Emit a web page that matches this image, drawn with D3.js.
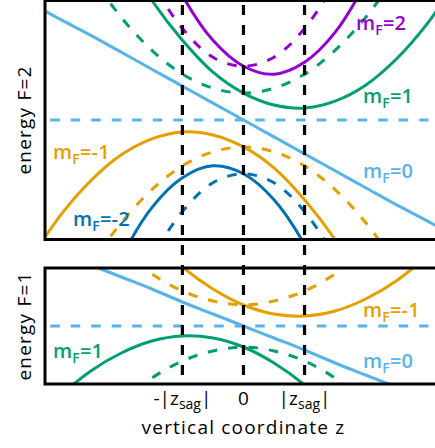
<!DOCTYPE html>
<html>
<head>
<meta charset="utf-8">
<script src="https://cdn.jsdelivr.net/npm/d3@7"></script>
<style>
  html, body { margin: 0; padding: 0; background: #fff; }
  svg { display: block; font-family: "Open Sans", "Lato", sans-serif; }
</style>
</head>
<body>
<svg id="chart" width="435" height="448"></svg>
<script>
// Sample positions along the vertical coordinate z (units of |z_sag|)
const zGrid = [-3.5, -3, -2.5, -2, -1.5, -1, -0.5, 0, 0.5, 1, 1.5, 2, 2.5, 3, 3.5];

// F=2 manifold: solid = with gravity, dashed = without gravity
const f2m2    = [63.7, 49.7, 37.6, 27.3, 19.0, 12.5, 8.0, 5.4, 4.6, 5.8, 8.8, 13.8, 20.7, 29.4, 40.1];
const f2m1    = [37.8, 29.9, 23.0, 17.0, 12.0, 8.0, 4.8, 2.7, 1.5, 1.2, 1.9, 3.5, 6.1, 9.6, 14.1];
const f2m0    = [11.8, 10.1, 8.5, 6.8, 5.1, 3.4, 1.7, 0, -1.7, -3.4, -5.1, -6.8, -8.5, -10.1, -11.8];
const f2mm1   = [-14.1, -9.6, -6.1, -3.5, -1.9, -1.2, -1.5, -2.7, -4.8, -8.0, -12.0, -17.0, -23.0, -29.9, -37.8];
const f2mm2   = [-40.1, -29.4, -20.7, -13.8, -8.8, -5.8, -4.6, -5.4, -8.0, -12.5, -19.0, -27.3, -37.6, -49.7, -63.7];
const f2m2ng  = [51.9, 39.6, 29.1, 20.6, 13.9, 9.2, 6.3, 5.4, 6.3, 9.2, 13.9, 20.6, 29.1, 39.6, 51.9];
const f2m1ng  = [26.0, 19.8, 14.6, 10.3, 7.0, 4.6, 3.2, 2.7, 3.2, 4.6, 7.0, 10.3, 14.6, 19.8, 26.0];
const f2m0ng  = [0, 0, 0, 0, 0, 0, 0, 0, 0, 0, 0, 0, 0, 0, 0];
const f2mm1ng = [-26.0, -19.8, -14.6, -10.3, -7.0, -4.6, -3.2, -2.7, -3.2, -4.6, -7.0, -10.3, -14.6, -19.8, -26.0];
const f2mm2ng = [-51.9, -39.6, -29.1, -20.6, -13.9, -9.2, -6.3, -5.4, -6.3, -9.2, -13.9, -20.6, -29.1, -39.6, -51.9];

// F=1 manifold
const f1mm1   = [27.3, 21.7, 16.7, 12.4, 8.8, 5.9, 3.7, 2.1, 1.2, 1.0, 1.5, 2.7, 4.5, 7.0, 10.2];
const f1m0    = [8.5, 7.3, 6.1, 4.9, 3.7, 2.4, 1.2, 0, -1.2, -2.4, -3.7, -4.9, -6.1, -7.3, -8.5];
const f1m1    = [-10.2, -7.0, -4.5, -2.7, -1.5, -1.0, -1.2, -2.1, -3.7, -5.9, -8.8, -12.4, -16.7, -21.7, -27.3];
const f1mm1ng = [18.8, 14.4, 10.6, 7.6, 5.2, 3.5, 2.5, 2.1, 2.5, 3.5, 5.2, 7.6, 10.6, 14.4, 18.8];
const f1m0ng  = [0, 0, 0, 0, 0, 0, 0, 0, 0, 0, 0, 0, 0, 0, 0];
const f1m1ng  = [-18.8, -14.4, -10.6, -7.6, -5.2, -3.5, -2.5, -2.1, -2.5, -3.5, -5.2, -7.6, -10.6, -14.4, -18.8];

// Axis ticks on z
const tickValues = [-1, 0, 1];
const tickLabels = [["-|z", "sag", "|"], ["0", "", ""], ["|z", "sag", "|"]];

const C = {
  purple: "#9400d3",
  green: "#009e73",
  sky: "#56b4e9",
  orange: "#e69f00",
  blue: "#0072b2"
};

const svg = d3.select("#chart");

const x = d3.scaleLinear().domain([-3.25, 3.3]).range([45, 445]);
const yTop = d3.scaleLinear().domain([-12, 12]).range([239.5, 0.5]);
const yBot = d3.scaleLinear().domain([-5.8, 5.8]).range([384, 268]);

const panels = [
  {
    id: "f2", y: yTop, title: "energy F=2",
    series: [
      { v: f2m0ng, c: C.sky, dash: true },
      { v: f2m2ng, c: C.purple, dash: true },
      { v: f2m1ng, c: C.green, dash: true },
      { v: f2mm1ng, c: C.orange, dash: true },
      { v: f2mm2ng, c: C.blue, dash: true },
      { v: f2m0, c: C.sky },
      { v: f2m2, c: C.purple },
      { v: f2m1, c: C.green },
      { v: f2mm1, c: C.orange },
      { v: f2mm2, c: C.blue }
    ],
    labels: [
      { m: "2", c: C.purple, px: 356, py: 30 },
      { m: "1", c: C.green, px: 363, py: 103 },
      { m: "0", c: C.sky, px: 363, py: 178 },
      { m: "-1", c: C.orange, px: 53, py: 159 },
      { m: "-2", c: C.blue, px: 73, py: 226 }
    ]
  },
  {
    id: "f1", y: yBot, title: "energy F=1",
    series: [
      { v: f1m0ng, c: C.sky, dash: true },
      { v: f1mm1ng, c: C.orange, dash: true },
      { v: f1m1ng, c: C.green, dash: true },
      { v: f1m0, c: C.sky },
      { v: f1mm1, c: C.orange },
      { v: f1m1, c: C.green }
    ],
    labels: [
      { m: "-1", c: C.orange, px: 363, py: 317 },
      { m: "0", c: C.sky, px: 363, py: 368 },
      { m: "1", c: C.green, px: 53, py: 358 }
    ]
  }
];

const defs = svg.append("defs");

panels.forEach(p => {
  const [y0, y1] = p.y.range();
  const x0 = x.range()[0], x1 = x.range()[1];

  defs.append("clipPath").attr("id", "clip-" + p.id)
    .append("rect")
    .attr("x", x0).attr("y", Math.min(y0, y1))
    .attr("width", x1 - x0).attr("height", Math.abs(y0 - y1));

  const g = svg.append("g").attr("clip-path", `url(#clip-${p.id})`);

  const line = d3.line()
    .x((d, i) => x(zGrid[i]))
    .y(d => p.y(d))
    .curve(d3.curveCatmullRom.alpha(0.5));

  g.selectAll("path.curve")
    .data(p.series)
    .join("path")
    .attr("class", "curve")
    .attr("d", s => line(s.v))
    .attr("fill", "none")
    .attr("stroke", s => s.c)
    .attr("stroke-width", 3)
    .attr("stroke-dasharray", s => s.dash ? "9.5,11" : null);

  // state labels m_F
  const lab = svg.selectAll(null)
    .data(p.labels)
    .join("text")
    .attr("x", d => d.px)
    .attr("y", d => d.py)
    .attr("fill", d => d.c)
    .attr("font-size", 20)
    .attr("font-weight", 600)
    .attr("letter-spacing", 0.2);
  lab.append("tspan").text("m");
  lab.append("tspan").attr("font-size", 14).attr("dy", 5).text("F");
  lab.append("tspan").attr("dy", -5).text(d => "=" + d.m);

  // y title
  svg.append("text")
    .attr("transform", `translate(31,${(y0 + y1) / 2}) rotate(-90)`)
    .attr("text-anchor", "middle")
    .attr("font-size", 19)
    .attr("font-weight", 500)
    .attr("letter-spacing", 1.2)
    .attr("fill", "#000")
    .text(p.title);
});

// markers at -|z_sag|, 0, |z_sag| spanning both panels
svg.selectAll("line.vmark")
  .data(tickValues)
  .join("line")
  .attr("class", "vmark")
  .attr("x1", d => x(d)).attr("x2", d => x(d))
  .attr("y1", yTop.range()[1] - 0.5).attr("y2", yBot.range()[0])
  .attr("stroke", "#000")
  .attr("stroke-width", 3.2)
  .attr("stroke-dasharray", "10,10")
  .attr("stroke-dashoffset", -5);

// panel frames
panels.forEach(p => {
  const [y0, y1] = p.y.range();
  svg.append("rect")
    .attr("x", x.range()[0]).attr("y", Math.min(y0, y1))
    .attr("width", x.range()[1] - x.range()[0]).attr("height", Math.abs(y0 - y1))
    .attr("fill", "none").attr("stroke", "#000").attr("stroke-width", 3);
});

// tick labels
const tl = svg.selectAll("text.tick")
  .data(tickValues)
  .join("text")
  .attr("class", "tick")
  .attr("x", d => x(d))
  .attr("y", 405)
  .attr("text-anchor", "middle")
  .attr("font-size", 19)
  .attr("font-weight", 500)
  .attr("fill", "#000");
tl.append("tspan").text((d, i) => tickLabels[i][0]);
tl.append("tspan").attr("font-size", 14).attr("dy", 4).text((d, i) => tickLabels[i][1]);
tl.append("tspan").attr("dy", -4).text((d, i) => tickLabels[i][2]);

// x title
svg.append("text")
  .attr("x", x(0))
  .attr("y", 434)
  .attr("text-anchor", "middle")
  .attr("font-size", 19)
  .attr("font-weight", 500)
  .attr("letter-spacing", 1.2)
  .attr("fill", "#000")
  .text("vertical coordinate z");
</script>
</body>
</html>
